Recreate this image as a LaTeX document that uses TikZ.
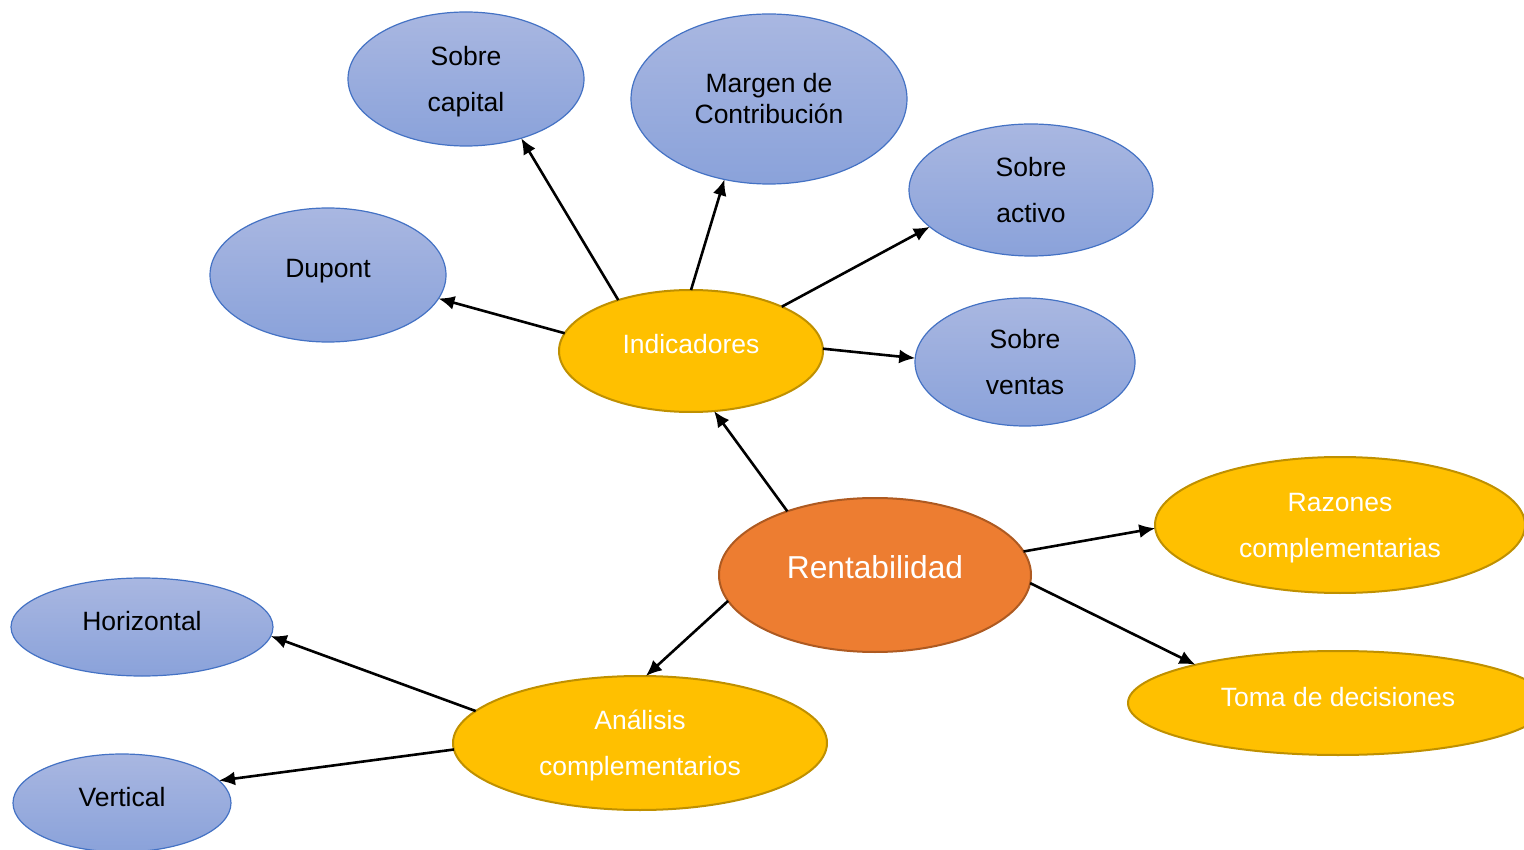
\documentclass[tikz,border=0pt]{standalone}
\usepackage{fontspec}
\setmainfont{Liberation Sans}
\usetikzlibrary{shapes.geometric,arrows.meta}
\definecolor{bluetop}{HTML}{A9B7E1}
\definecolor{bluebot}{HTML}{8AA2DA}
\definecolor{blueline}{HTML}{4472C4}
\definecolor{gold}{HTML}{FFC000}
\definecolor{goldline}{HTML}{BF9000}
\definecolor{orng}{HTML}{ED7D31}
\definecolor{orngline}{HTML}{AE5A21}
\begin{document}
\begin{tikzpicture}[x=1pt,y=-1pt,
 base/.style={ellipse, inner sep=0pt, outer sep=0pt, align=center, font=\fontsize{26.5}{46}\selectfont},
 bluebox/.style={base, top color=bluetop, bottom color=bluebot, draw=blueline, line width=1.2pt, text=black},
 goldbox/.style={base, fill=gold, draw=goldline, line width=2pt, text=white},
 orngbox/.style={base, fill=orng, draw=orngline, line width=2pt, text=white, font=\fontsize{31.7}{38}\selectfont},
 one/.style={text height=20pt, text depth=14pt},
 two/.style={text height=65pt, text depth=-3pt},
 sz/.style 2 args={minimum width=#1pt, minimum height=#2pt},
 arr/.style={-{Latex[length=16pt,width=14pt]}, line width=2.6pt, black}
]
\useasboundingbox (0,0) rectangle (1524,850);
\clip (0,0) rectangle (1524,850);

\node[bluebox,two,sz={236}{134}] (cap) at (466,79) {Sobre\\capital};
\node[bluebox,sz={276}{170}, font=\fontsize{26.5}{31}\selectfont, text height=50pt, text depth=0pt] (mar) at (769,99) {Margen de\\Contribución};
\node[bluebox,two,sz={244}{132}] (act) at (1031,190) {Sobre\\activo};
\node[bluebox,one,sz={236}{134}] (dup) at (328,275) {Dupont};
\node[goldbox,one,sz={264}{122}] (ind) at (691,351) {Indicadores};
\node[bluebox,two,sz={220}{128}] (ven) at (1025,362) {Sobre\\ventas};
\node[orngbox,one,sz={312}{154}] (ren) at (875,575) {Rentabilidad};
\node[goldbox,two,sz={370}{136}] (raz) at (1340,525) {Razones\\complementarias};
\node[goldbox,one,sz={420}{104}] (tom) at (1338,703) {Toma de decisiones};
\node[bluebox,one,sz={262}{98}] (hor) at (142,627) {Horizontal};
\node[bluebox,one,sz={218}{98}] (ver) at (122,803) {Vertical};
\node[goldbox,two,sz={374}{134}] (ana) at (640,743) {Análisis\\complementarios};

\draw[arr] (ind.145.3) -- (cap.313.4);
\draw[arr] (ind.90) -- (mar.241.1);
\draw[arr] (ind.26.3) -- (act.200.7);
\draw[arr] (ind.172.7) -- (dup.348.2);
\draw[arr] (ind.1) -- (ven.178);
\draw[arr] (ren.144.5) -- (ind.291.3);
\draw[arr] (ren.9.5) -- (raz.181.5);
\draw[arr] (ren.357.8) -- (tom.165.7);
\draw[arr] (ren.190.4) -- (ana.85.2);
\draw[arr] (ana.169) -- (hor.356.9);
\draw[arr] (ana.182.7) -- (ver.13.2);
\end{tikzpicture}
\end{document}
